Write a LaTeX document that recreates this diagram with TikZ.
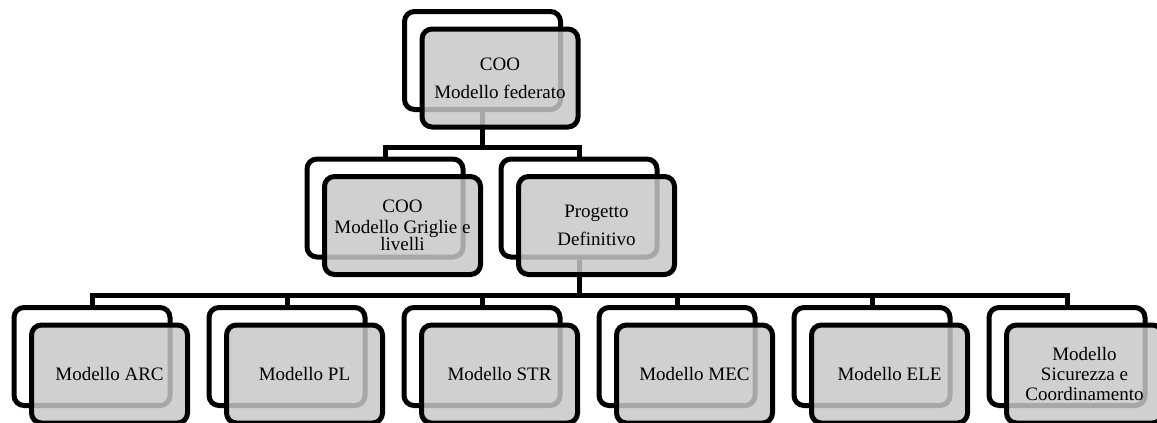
\documentclass[tikz,border=0pt]{standalone}
\usepackage{fontspec}
\setmainfont{Liberation Serif}

\tikzstyle{backbox} = [rectangle, draw, line width=2.5pt, rounded corners=5pt, fill=white, minimum width=78pt, minimum height=49pt, inner sep=0pt]
\tikzstyle{frontbox} = [backbox, fill=black!22, fill opacity=0.84, text opacity=1, align=center, font=\fontsize{9.5}{11}\selectfont, xshift=8.75pt, yshift=-8.75pt]
\tikzstyle{link} = [line width=2.5pt]

\begin{document}
\begin{tikzpicture}[node distance = 97.5pt]
    \useasboundingbox (0,0) rectangle (578.5pt,-211.5pt);
    % back boxes
    \node (fed) [backbox] at (241.25pt,-30.25pt) {};
    \node (grig) [backbox] at (192.5pt,-104pt) {};
    \node (prog) [backbox, right of = grig, node distance = 97pt] {};
    \node (arc) [backbox] at (46pt,-178.25pt) {};
    \node (pl) [backbox, right of = arc] {};
    \node (str) [backbox, right of = pl] {};
    \node (mec) [backbox, right of = str] {};
    \node (ele) [backbox, right of = mec] {};
    \node (sic) [backbox, right of = ele] {};
    % connectors
    \draw [link] (fed.south) -- ++(0,-17.75pt) -| (grig.north);
    \draw [link] (fed.south) -- ++(0,-17.75pt) -| (prog.north);
    \foreach \child in {arc, pl, str, mec, ele, sic}
        \draw [link] (prog.south) -- ++(0,-18pt) -| (\child.north);
    % front boxes
    \node (fedF) [frontbox] at (fed) {COO\\[3pt]Modello federato};
    \node (grigF) [frontbox] at (grig) {COO\\[-0.5pt]Modello Griglie e\\[-2.5pt]livelli};
    \node (progF) [frontbox] at (prog) {Progetto\\[3pt]Definitivo};
    \node (arcF) [frontbox] at (arc) {Modello ARC};
    \node (plF) [frontbox] at (pl) {Modello PL};
    \node (strF) [frontbox] at (str) {Modello STR};
    \node (mecF) [frontbox] at (mec) {Modello MEC};
    \node (eleF) [frontbox] at (ele) {Modello ELE};
    \node (sicF) [frontbox] at (sic) {Modello\\[-1pt]Sicurezza e\\[-1pt]Coordinamento};
\end{tikzpicture}
\end{document}
